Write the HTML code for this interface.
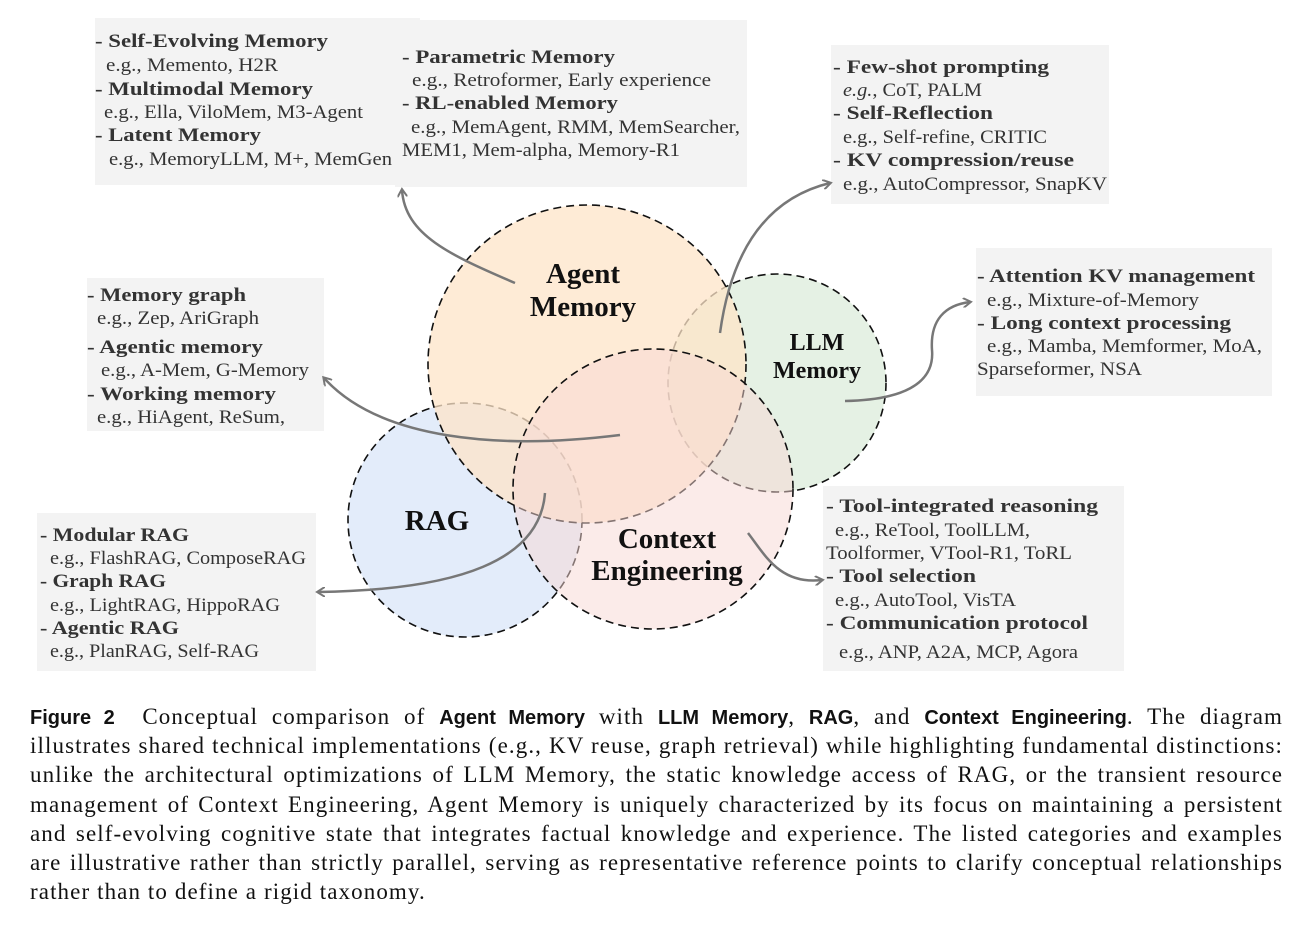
<!DOCTYPE html>
<html><head><meta charset="utf-8"><style>
html,body{margin:0;padding:0;background:#fff;width:1315px;height:928px;overflow:hidden}
svg{position:absolute;left:0;top:0}
.cap{position:absolute;left:30px;width:1253px;top:702px;font-family:"Liberation Serif",serif;font-size:23px;letter-spacing:1.1px;color:#111}
.cap div{height:29.2px;line-height:29.2px;text-align:justify;text-align-last:justify;white-space:nowrap}
.cap div.last{text-align-last:left}
.cap b{font-family:"Liberation Sans",sans-serif;font-weight:bold;font-size:20px;letter-spacing:0}
</style></head><body>
<svg width="1315" height="700" viewBox="0 0 1315 700" font-family="Liberation Serif, serif">
<defs><marker id="ah" markerWidth="10" markerHeight="10" refX="7" refY="5" orient="auto" markerUnits="userSpaceOnUse"><path d="M0,0 L8,5 L0,10" fill="none" stroke="#777" stroke-width="2"/></marker></defs>
<g fill="#f3f3f3">
<rect x="95" y="18" width="325" height="167"/><rect x="395" y="20" width="352" height="167"/>
<rect x="831" y="45" width="278" height="159"/>
<rect x="976" y="248" width="296" height="148"/>
<rect x="87" y="278" width="237" height="153"/>
<rect x="37" y="513" width="279" height="158"/>
<rect x="823" y="486" width="301" height="185"/>
</g>
<g stroke="#111" stroke-width="1.6" stroke-dasharray="8,5">
<circle cx="465" cy="520" r="117" fill="rgba(218,230,248,0.75)"/>
<circle cx="777" cy="383" r="109" fill="rgba(215,233,213,0.65)"/>
<circle cx="587" cy="364" r="159" fill="rgba(253,228,200,0.75)"/>
<circle cx="653" cy="489" r="140" fill="rgba(248,215,212,0.5)"/>
</g>
<g font-weight="bold" fill="#111" text-anchor="middle">
<text x="583" y="283" font-size="29">Agent</text>
<text x="583" y="316" font-size="29">Memory</text>
<text x="817" y="350" font-size="24">LLM</text>
<text x="817" y="378" font-size="24">Memory</text>
<text x="437" y="530" font-size="29">RAG</text>
<text x="667" y="548" font-size="29">Context</text>
<text x="667" y="580" font-size="29">Engineering</text>
</g>
<g fill="none" stroke="#777" stroke-width="2.5" marker-end="url(#ah)">
<path d="M515,283 C450,255 405,235 402,190"/>
<path d="M720,333 C730,260 760,200 830,183"/>
<path d="M845,401 C900,400 935,385 932,350 C930,320 945,305 970,302"/>
<path d="M620,435 C500,450 380,440 324,378"/>
<path d="M545,493 C540,560 460,590 318,592"/>
<path d="M748,533 C765,555 780,585 822,580"/>
</g>
<g font-size="19" fill="#333">
<text x="95" y="47" textLength="233" lengthAdjust="spacingAndGlyphs" font-weight="bold">- Self-Evolving Memory</text>
<text x="106" y="71" textLength="172" lengthAdjust="spacingAndGlyphs">e.g., Memento, H2R</text>
<text x="95" y="95" textLength="218" lengthAdjust="spacingAndGlyphs" font-weight="bold">- Multimodal Memory</text>
<text x="104" y="118" textLength="259" lengthAdjust="spacingAndGlyphs">e.g., Ella, ViloMem, M3-Agent</text>
<text x="95" y="141" textLength="166" lengthAdjust="spacingAndGlyphs" font-weight="bold">- Latent Memory</text>
<text x="109" y="165" textLength="283" lengthAdjust="spacingAndGlyphs">e.g., MemoryLLM, M+, MemGen</text>
<text x="402" y="63" textLength="213" lengthAdjust="spacingAndGlyphs" font-weight="bold">- Parametric Memory</text>
<text x="412" y="86" textLength="299" lengthAdjust="spacingAndGlyphs">e.g., Retroformer, Early experience</text>
<text x="402" y="109" textLength="216" lengthAdjust="spacingAndGlyphs" font-weight="bold">- RL-enabled Memory</text>
<text x="411" y="133" textLength="329" lengthAdjust="spacingAndGlyphs">e.g., MemAgent, RMM, MemSearcher,</text>
<text x="402" y="156" textLength="278" lengthAdjust="spacingAndGlyphs">MEM1, Mem-alpha, Memory-R1</text>

<text x="833" y="73" textLength="216" lengthAdjust="spacingAndGlyphs" font-weight="bold">- Few-shot prompting</text>
<text x="843" y="96" textLength="139" lengthAdjust="spacingAndGlyphs"><tspan font-style="italic">e.g.</tspan>, CoT, PALM</text>
<text x="833" y="119" textLength="160" lengthAdjust="spacingAndGlyphs" font-weight="bold">- Self-Reflection</text>
<text x="843" y="143" textLength="204" lengthAdjust="spacingAndGlyphs">e.g., Self-refine, CRITIC</text>
<text x="833" y="166" textLength="241" lengthAdjust="spacingAndGlyphs" font-weight="bold">- KV compression/reuse</text>
<text x="843" y="190" textLength="264" lengthAdjust="spacingAndGlyphs">e.g., AutoCompressor, SnapKV</text>

<text x="977" y="282" textLength="278" lengthAdjust="spacingAndGlyphs" font-weight="bold">- Attention KV management</text>
<text x="987" y="306" textLength="212" lengthAdjust="spacingAndGlyphs">e.g., Mixture-of-Memory</text>
<text x="977" y="329" textLength="254" lengthAdjust="spacingAndGlyphs" font-weight="bold">- Long context processing</text>
<text x="987" y="352" textLength="275" lengthAdjust="spacingAndGlyphs">e.g., Mamba, Memformer, MoA,</text>
<text x="977" y="375" textLength="165" lengthAdjust="spacingAndGlyphs">Sparseformer, NSA</text>

<text x="87" y="301" textLength="159" lengthAdjust="spacingAndGlyphs" font-weight="bold">- Memory graph</text>
<text x="97" y="324" textLength="162" lengthAdjust="spacingAndGlyphs">e.g., Zep, AriGraph</text>
<text x="87" y="353" textLength="176" lengthAdjust="spacingAndGlyphs" font-weight="bold">- Agentic memory</text>
<text x="101" y="376" textLength="208" lengthAdjust="spacingAndGlyphs">e.g., A-Mem, G-Memory</text>
<text x="87" y="400" textLength="189" lengthAdjust="spacingAndGlyphs" font-weight="bold">- Working memory</text>
<text x="97" y="423" textLength="188" lengthAdjust="spacingAndGlyphs">e.g., HiAgent, ReSum,</text>

<text x="40" y="541" textLength="149" lengthAdjust="spacingAndGlyphs" font-weight="bold">- Modular RAG</text>
<text x="50" y="564" textLength="256" lengthAdjust="spacingAndGlyphs">e.g., FlashRAG, ComposeRAG</text>
<text x="40" y="587" textLength="126" lengthAdjust="spacingAndGlyphs" font-weight="bold">- Graph RAG</text>
<text x="50" y="611" textLength="230" lengthAdjust="spacingAndGlyphs">e.g., LightRAG, HippoRAG</text>
<text x="40" y="634" textLength="139" lengthAdjust="spacingAndGlyphs" font-weight="bold">- Agentic RAG</text>
<text x="50" y="657" textLength="209" lengthAdjust="spacingAndGlyphs">e.g., PlanRAG, Self-RAG</text>

<text x="826" y="512" textLength="272" lengthAdjust="spacingAndGlyphs" font-weight="bold">- Tool-integrated reasoning</text>
<text x="835" y="536" textLength="195" lengthAdjust="spacingAndGlyphs">e.g., ReTool, ToolLLM,</text>
<text x="826" y="559" textLength="246" lengthAdjust="spacingAndGlyphs">Toolformer, VTool-R1, ToRL</text>
<text x="826" y="582" textLength="150" lengthAdjust="spacingAndGlyphs" font-weight="bold">- Tool selection</text>
<text x="835" y="606" textLength="181" lengthAdjust="spacingAndGlyphs">e.g., AutoTool, VisTA</text>
<text x="826" y="629" textLength="262" lengthAdjust="spacingAndGlyphs" font-weight="bold">- Communication protocol</text>
<text x="839" y="658" textLength="239" lengthAdjust="spacingAndGlyphs">e.g., ANP, A2A, MCP, Agora</text>
</g>
</svg>
<div class="cap">
<div><b>Figure 2</b>&nbsp; Conceptual comparison of <b>Agent Memory</b> with <b>LLM Memory</b>, <b>RAG</b>, and <b>Context Engineering</b>. The diagram</div>
<div>illustrates shared technical implementations (e.g., KV reuse, graph retrieval) while highlighting fundamental distinctions:</div>
<div>unlike the architectural optimizations of LLM Memory, the static knowledge access of RAG, or the transient resource</div>
<div>management of Context Engineering, Agent Memory is uniquely characterized by its focus on maintaining a persistent</div>
<div>and self-evolving cognitive state that integrates factual knowledge and experience. The listed categories and examples</div>
<div>are illustrative rather than strictly parallel, serving as representative reference points to clarify conceptual relationships</div>
<div class="last">rather than to define a rigid taxonomy.</div>
</div>
</body></html>
